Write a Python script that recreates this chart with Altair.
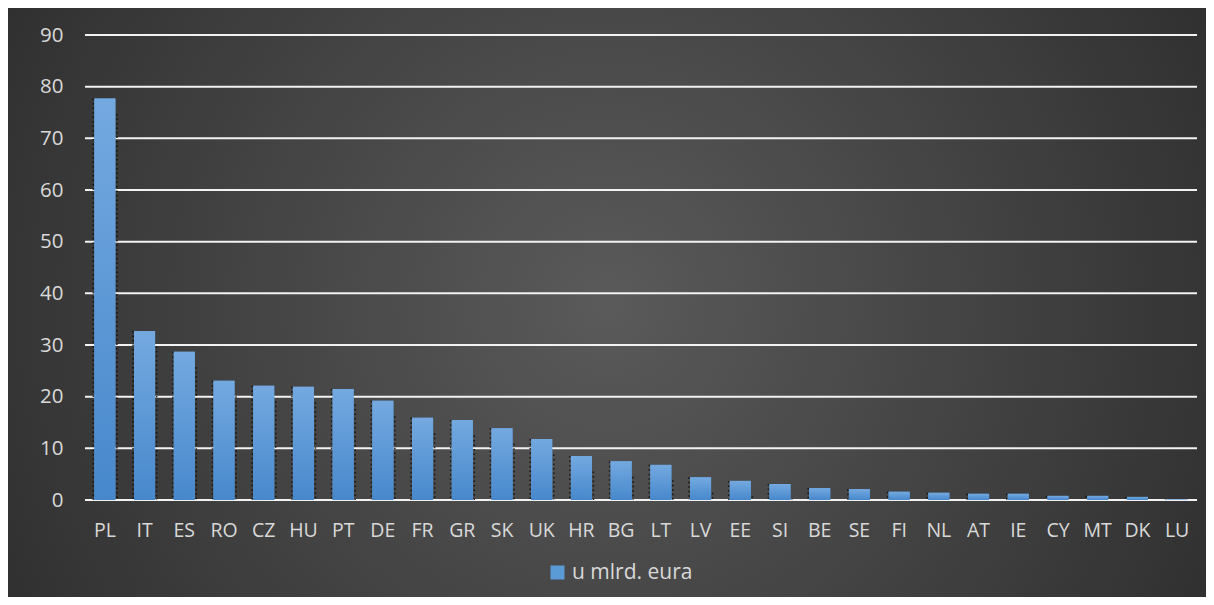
import altair as alt
import pandas as pd

countries = ["PL", "IT", "ES", "RO", "CZ", "HU", "PT", "DE", "FR", "GR", "SK", "UK", "HR", "BG",
             "LT", "LV", "EE", "SI", "BE", "SE", "FI", "NL", "AT", "IE", "CY", "MT", "DK", "LU"]
values = [77.7, 32.7, 28.7, 23.1, 22.1, 21.9, 21.5, 19.2, 15.9, 15.5, 13.9, 11.8, 8.5, 7.5,
          6.8, 4.4, 3.7, 3.1, 2.3, 2.1, 1.6, 1.4, 1.2, 1.2, 0.8, 0.8, 0.6, 0.1]
y_ticks = list(range(0, 91, 10))
series_name = "u mlrd. eura"

W, H = 1112, 465
PAD_L, PAD_R, PAD_T, PAD_B = 77, 9, 27, 97
FONT = "Open Sans"
TEXT = "#d9d9d9"

df = pd.DataFrame({"country": countries, "value": values, "series": series_name})
grid_df = pd.DataFrame({"v": y_ticks})
bg_df = pd.DataFrame({"a": [0]})

bg_fill = alt.RadialGradient(
    gradient="radial",
    x1=0.5, y1=0.5, r1=0.0,
    x2=0.5, y2=0.5, r2=0.75,
    stops=[alt.GradientStop(offset=0, color="#5a5a5a"),
           alt.GradientStop(offset=1, color="#222222")],
)
bar_fill = alt.LinearGradient(
    gradient="linear", x1=0, y1=0, x2=0, y2=1,
    stops=[alt.GradientStop(offset=0, color="#74a9e0"),
           alt.GradientStop(offset=1, color="#4788cc")],
)

x_scale = alt.Scale(paddingInner=0.47, paddingOuter=0.235)
x_axis = alt.Axis(title=None, labelAngle=0, domain=False, ticks=False,
                  labelPadding=21, labelFont=FONT, labelFontSize=19.5,
                  labelColor=TEXT, zindex=1)
x_enc = alt.X("country:N", sort=countries, scale=x_scale, axis=x_axis)
y_scale = alt.Scale(domain=[0, 90], nice=False)
y_axis = alt.Axis(title=None, values=y_ticks, grid=False, domain=False, ticks=False,
                  labelPadding=22, labelFont=FONT, labelFontSize=20.5,
                  labelColor=TEXT, zindex=1)
y_enc = alt.Y("value:Q", scale=y_scale, axis=y_axis)

background = alt.Chart(bg_df).mark_rect(fill=bg_fill).encode(
    x=alt.value(-PAD_L), x2=alt.value(W + PAD_R),
    y=alt.value(-PAD_T), y2=alt.value(H + PAD_B),
)

grid = alt.Chart(grid_df).mark_rule(color="#f2f2f2", strokeWidth=2).encode(
    y=alt.Y("v:Q", scale=y_scale, axis=y_axis),
)

shadow_left = alt.Chart(df).mark_rule(
    color="#0a0a0a", strokeWidth=1.6, strokeDash=[1.5, 3], xOffset=-11.5, opacity=0.85
).encode(
    x=x_enc, y=y_enc, y2=alt.datum(0),
)
shadow_right = alt.Chart(df).transform_calculate(
    top="max(datum.value - 3, 0)"
).mark_rule(
    color="#0a0a0a", strokeWidth=1.6, strokeDash=[1.5, 3], xOffset=12, opacity=0.85
).encode(
    x=x_enc, y=alt.Y("top:Q", scale=y_scale, axis=y_axis), y2=alt.datum(0),
)

legend_bars = alt.Chart(df).mark_bar().encode(
    x=x_enc, y=y_enc,
    color=alt.Color("series:N",
                    scale=alt.Scale(range=["#5b9bd5"]),
                    legend=alt.Legend(title=None, orient="none", legendX=462, legendY=527,
                                      symbolType="square", symbolSize=196, symbolStrokeWidth=0,
                                      labelFont=FONT, labelFontSize=21, labelColor=TEXT,
                                      padding=0, zindex=1)),
)

bars = alt.Chart(df).mark_bar(fill=bar_fill).encode(x=x_enc, y=y_enc)

chart = alt.layer(background, grid, shadow_left, shadow_right, legend_bars, bars).properties(
    width=W, height=H,
    padding={"left": PAD_L, "right": PAD_R, "top": PAD_T, "bottom": PAD_B},
    autosize=alt.AutoSizeParams(type="none"),
).configure_view(stroke=None).configure(background="white")

chart.save("out.html", embed_options={"renderer": "svg", "actions": False})
